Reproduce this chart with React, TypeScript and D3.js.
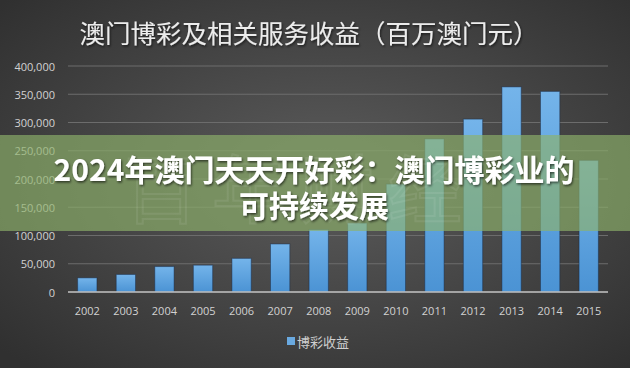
import React, { useRef, useEffect } from 'react'
import * as d3 from 'd3'

const years = ['2002', '2003', '2004', '2005', '2006', '2007', '2008', '2009', '2010', '2011', '2012', '2013', '2014', '2015']
const revenue = [25000, 31000, 45000, 47500, 59500, 85000, 110500, 122000, 191000, 271000, 306000, 363000, 355000, 233000]
const yTicks = [0, 50000, 100000, 150000, 200000, 250000, 300000, 350000, 400000]
const title = '澳门博彩及相关服务收益（百万澳门元）'
const legendLabel = '博彩收益'
const headline = ['2024年澳门天天开好彩：澳门博彩业的', '可持续发展']
const watermark = '百年财经'

const W = 630
const H = 368

export default function App() {
  const ref = useRef<SVGSVGElement>(null)

  useEffect(() => {
    const svg = d3.select(ref.current)
    svg.selectAll('*').remove()

    const margin = { top: 66, right: 22, bottom: 76, left: 68 }
    const width = W - margin.left - margin.right
    const height = H - margin.top - margin.bottom

    const defs = svg.append('defs')
    const bg = defs.append('radialGradient').attr('id', 'bg').attr('cx', '52%').attr('cy', '48%').attr('r', '70%')
    bg.append('stop').attr('offset', '0%').attr('stop-color', '#5c5c5c')
    bg.append('stop').attr('offset', '100%').attr('stop-color', '#303030')

    const barGrad = defs.append('linearGradient').attr('id', 'bar').attr('x1', 0).attr('y1', 0).attr('x2', 0).attr('y2', 1)
    barGrad.append('stop').attr('offset', '0%').attr('stop-color', '#74b4ea')
    barGrad.append('stop').attr('offset', '100%').attr('stop-color', '#4b93d4')

    const shadow = defs.append('filter').attr('id', 'shadow').attr('x', '-10%').attr('y', '-30%').attr('width', '120%').attr('height', '160%')
    shadow.append('feDropShadow').attr('dx', 1).attr('dy', 1.5).attr('stdDeviation', 1.2).attr('flood-color', '#000').attr('flood-opacity', 0.6)

    svg.append('rect').attr('width', W).attr('height', H).attr('fill', 'url(#bg)')

    // title
    svg.append('text')
      .attr('x', 309).attr('y', 31)
      .attr('text-anchor', 'middle').attr('dominant-baseline', 'central')
      .attr('font-family', '"Noto Sans CJK SC", sans-serif')
      .attr('font-size', 25.5)
      .attr('fill', '#ececec')
      .attr('filter', 'url(#shadow)')
      .text(title)

    const g = svg.append('g').attr('transform', `translate(${margin.left},${margin.top})`)

    const x = d3.scaleBand().domain(years).range([0, width]).paddingInner(0.5).paddingOuter(0.25)
    const y = d3.scaleLinear().domain([0, 400000]).range([height, 0])

    // gridlines
    g.append('g')
      .selectAll('line')
      .data(yTicks.slice(1))
      .enter()
      .append('line')
      .attr('x1', 0).attr('x2', width)
      .attr('y1', d => y(d)).attr('y2', d => y(d))
      .attr('stroke', '#6c6c6c').attr('stroke-width', 1)

    // y labels
    g.append('g')
      .selectAll('text')
      .data(yTicks)
      .enter()
      .append('text')
      .attr('x', -13).attr('y', d => y(d))
      .attr('text-anchor', 'end').attr('dominant-baseline', 'central')
      .attr('font-family', '"Open Sans", sans-serif').attr('font-size', 11)
      .attr('fill', '#d2d2d2')
      .text(d => d3.format(',')(d))

    // bars
    g.append('g')
      .selectAll('rect')
      .data(revenue)
      .enter()
      .append('rect')
      .attr('x', (d, i) => x(years[i]))
      .attr('y', d => y(d))
      .attr('width', x.bandwidth())
      .attr('height', d => height - y(d))
      .attr('fill', 'url(#bar)')
      .attr('stroke', 'rgba(20,40,70,0.45)').attr('stroke-width', 1)

    // zero axis
    g.append('line')
      .attr('x1', 0).attr('x2', width)
      .attr('y1', y(0)).attr('y2', y(0))
      .attr('stroke', '#c4c4c4').attr('stroke-width', 1.5)

    // x labels
    g.append('g')
      .selectAll('text')
      .data(years)
      .enter()
      .append('text')
      .attr('x', d => x(d) + x.bandwidth() / 2)
      .attr('y', height + 18)
      .attr('text-anchor', 'middle').attr('dominant-baseline', 'central')
      .attr('font-family', '"Open Sans", sans-serif').attr('font-size', 11)
      .attr('fill', '#d2d2d2')
      .text(d => d)

    // legend
    const lg = svg.append('g').attr('transform', 'translate(287,341)')
    lg.append('rect').attr('x', 0).attr('y', -4).attr('width', 8).attr('height', 8).attr('fill', '#69a9e0')
    lg.append('text')
      .attr('x', 10).attr('y', 0)
      .attr('dominant-baseline', 'central')
      .attr('font-family', '"Noto Sans CJK SC", sans-serif').attr('font-size', 13)
      .attr('fill', '#cfcfcf')
      .text(legendLabel)

    // green overlay band
    svg.append('rect')
      .attr('x', 0).attr('y', 135).attr('width', W).attr('height', 96)
      .attr('fill', 'rgb(141,178,106)').attr('opacity', 0.66)

    svg.append('text')
      .attr('x', 300).attr('y', 184)
      .attr('text-anchor', 'middle').attr('dominant-baseline', 'central')
      .attr('font-family', '"Noto Sans CJK SC", sans-serif').attr('font-size', 74)
      .attr('fill', 'none').attr('stroke', '#ffffff').attr('stroke-opacity', 0.08).attr('stroke-width', 2)
      .attr('letter-spacing', 14)
      .text(watermark)

    headline.forEach((line, i) => {
      svg.append('text')
        .attr('x', 314).attr('y', 168 + i * 36)
        .attr('text-anchor', 'middle').attr('dominant-baseline', 'central')
        .attr('font-family', '"Noto Sans CJK SC", sans-serif').attr('font-size', 30)
        .attr('font-weight', 700)
        .attr('fill', '#ffffff')
        .attr('filter', 'url(#shadow)')
        .text(line)
    })
  }, [])

  return (
    <svg
      ref={ref}
      width={W}
      height={H}
      style={{ position: 'absolute', left: 0, top: 0, display: 'block' }}
    />
  )
}
